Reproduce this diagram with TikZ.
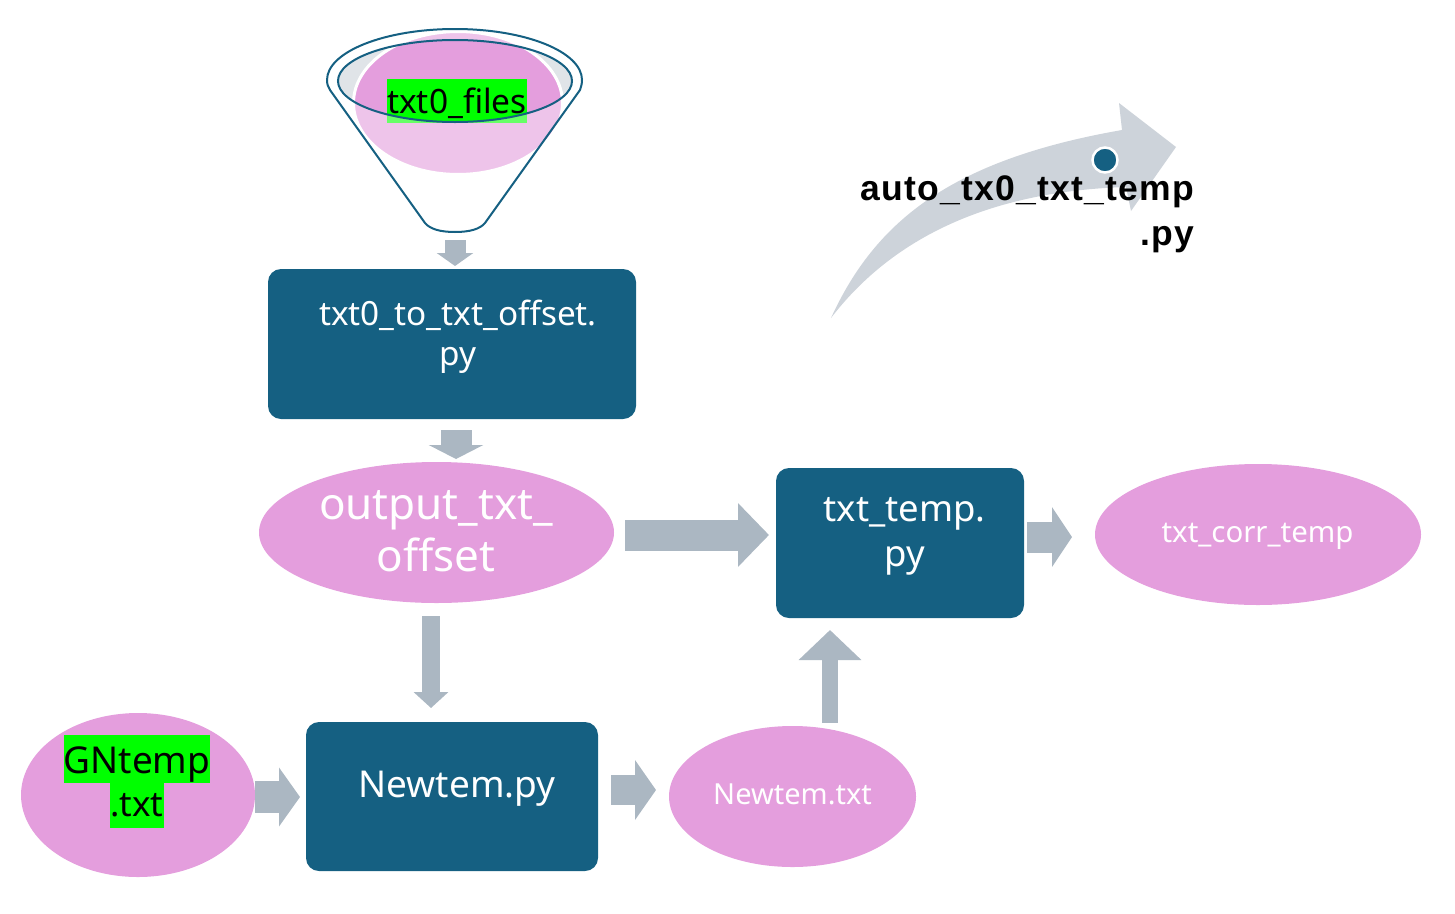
\documentclass[tikz,border=0pt]{standalone}
\usepackage{fontspec}
\setmainfont{Noto Sans}
\newfontfamily\boldfam[LetterSpace=3.4]{Liberation Sans}
\usetikzlibrary{arrows.meta,calc,shapes.geometric}
\definecolor{boxc}{HTML}{156082}
\definecolor{pinkc}{HTML}{E49EDD}
\definecolor{arrc}{HTML}{ABB7C2}
\definecolor{curvec}{HTML}{CDD3DA}
\definecolor{rimc}{HTML}{E0E4E8}
\newcommand{\fsz}[2]{\fontsize{#1}{#2}\selectfont}
\tikzset{
  boxn/.style={rectangle,rounded corners=13pt,fill=boxc,inner sep=0pt,outer sep=0pt},
  elln/.style={ellipse,fill=pinkc,inner sep=0pt,outer sep=0pt},
  wtext/.style={text=white,align=center,inner sep=0pt},
  hl/.style={fill=green,text=black,inner sep=0pt,outer sep=0pt},
  barrow/.style n args={3}{draw=arrc,line width=#1,-{Triangle[length=#3,width=#2,fill=arrc]}},
}
\begin{document}
\begin{tikzpicture}[x=1pt,y=-1pt]
\useasboundingbox (0,0) rectangle (1455,913);
% curved arrow
\fill[curvec] (831,318) .. controls (875,222) and (950,160) .. (1122,130) -- (1119,103) -- (1176,147) -- (1131,211) -- (1126,187) .. controls (1030,190) and (910,215) .. (831,318) -- cycle;
% funnel
\node[minimum width=255pt,minimum height=203pt,inner sep=0pt,outer sep=0pt] (funnel) at (454.5,130.5) {};
\fill[rimc] (455,81) ellipse [x radius=117,y radius=41];
\node[elln,draw=white,line width=3pt,minimum width=209pt,minimum height=143pt] (filesell) at (458,103) {};
\node[hl,minimum width=140pt,minimum height=44pt,font=\fsz{33.5}{40}] (files) at (457,101) {\raisebox{-12pt}[0pt][0pt]{txt0\_files}};
\fill[white,opacity=.4,even odd rule]
  (330,90) .. controls (328,87) and (327,84) .. (327,80) .. controls (327,52) and (384,29) .. (455,29) .. controls (526,29) and (582,52) .. (582,80) .. controls (582,84) and (581,87) .. (580,90) -- (485,223) .. controls (480,229) and (470,232) .. (455,232) .. controls (440,232) and (430,229) .. (425,223) -- cycle
  (455,81) ellipse [x radius=117,y radius=41];
\draw[boxc,line width=2pt]
  (330,90) .. controls (328,87) and (327,84) .. (327,80) .. controls (327,52) and (384,29) .. (455,29) .. controls (526,29) and (582,52) .. (582,80) .. controls (582,84) and (581,87) .. (580,90) -- (485,223) .. controls (480,229) and (470,232) .. (455,232) .. controls (440,232) and (430,229) .. (425,223) -- cycle;
\draw[boxc,line width=2pt] (455,81) ellipse [x radius=117,y radius=41];
% boxes
\node[boxn,minimum width=368pt,minimum height=150pt] (box1) at (452,344) {};
\node[boxn,minimum width=248pt,minimum height=150pt] (ttemp) at (900,543) {};
\node[boxn,minimum width=292pt,minimum height=149pt] (newtem) at (452,796.5) {};
% ellipses
\node[elln,minimum width=355pt,minimum height=141pt] (output) at (436.5,532.5) {};
\node[elln,minimum width=326pt,minimum height=141pt] (corr) at (1258,534.5) {};
\node[elln,minimum width=234pt,minimum height=164pt] (gn) at (138,795) {};
\node[elln,minimum width=247pt,minimum height=141pt] (ntxt) at (792.5,796.5) {};
% block arrows
\draw[barrow={21pt}{36pt}{13pt}] ($(funnel.south)+(0.5,8)$) -- ($(box1.north)+(3,-3)$);
\draw[barrow={31pt}{54pt}{14pt}] ($(box1.south)+(4,11)$) -- ($(output.north)+(19.5,-3)$);
\draw[barrow={31pt}{62pt}{31pt}] ($(output.east)+(11,2.5)$) -- ($(ttemp.west)+(-7,-8)$);
\draw[barrow={31pt}{59pt}{20pt}] ($(ttemp.east)+(3,-6)$) -- ($(corr.west)+(-23,2.5)$);
\draw[barrow={18pt}{34pt}{16pt}] ($(output.south)+(-5.5,13)$) -- ($(newtem.north)+(-21,-14)$);
\draw[barrow={32pt}{58pt}{21pt}] ($(gn.east)+(0,2)$) -- ($(newtem.west)+(-6,0.5)$);
\draw[barrow={30pt}{59pt}{21pt}] ($(newtem.east)+(13,-6.5)$) -- ($(ntxt.west)+(-13,-6.5)$);
\draw[barrow={16pt}{61pt}{30pt}] ($(ntxt.north)+(37.5,-3)$) -- ($(ttemp.south)+(-70,12)$);
% labels
\node[wtext,font=\fsz{33.3}{40}] (l1) at (458,336.5) {txt0\_to\_txt\_offset.\\py};
\node[wtext,font=\fsz{44}{52}] (l2) at (436,531) {output\_txt\_\\offset};
\node[wtext,font=\fsz{36.5}{45}] (l3) at (904.5,536) {txt\_temp.\\py};
\node[wtext,font=\fsz{37}{42}] (l4) at (457,789) {Newtem.py};
\node[wtext,font=\fsz{29}{34}] (l5) at (792.5,794) {Newtem.txt};
\node[wtext,font=\fsz{29.4}{34}] (l6) at (1257.5,536) {txt\_corr\_temp};
\node[hl,minimum width=146pt,minimum height=48pt,font=\fsz{37}{44}] (g1) at (137,759) {\raisebox{-14pt}[0pt][0pt]{GNtemp}};
\node[hl,minimum width=54pt,minimum height=45pt,font=\fsz{35}{42}] (g2) at (137,805.5) {.txt};
\node[circle,fill=boxc,draw=white,line width=2.5pt,minimum size=25pt,inner sep=0pt] (dot) at (1105,160) {};
\node[align=right,inner sep=0pt,font=\boldfam\bfseries\fsz{35.5}{45},anchor=east] (auto) at (1194,214) {auto\_tx0\_txt\_temp\\.py};
\end{tikzpicture}
\end{document}
